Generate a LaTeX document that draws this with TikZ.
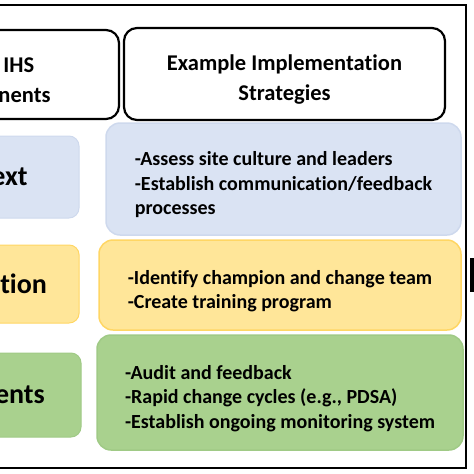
\documentclass[tikz,border=0pt]{standalone}
\usepackage{fontspec}
\setmainfont{Carlito}[Ligatures=NoCommon]
\usepackage{xcolor}
\usepackage{tikz}

\definecolor{ctxfill}{RGB}{218,227,243}
\definecolor{ctxline}{RGB}{206,217,237}
\definecolor{facfill}{RGB}{255,230,153}
\definecolor{facline}{RGB}{255,214,100}
\definecolor{recfill}{RGB}{169,209,142}
\definecolor{recline}{RGB}{160,202,134}

\newcommand{\toppad}[1]{\rule{0pt}{#1}}

\begin{document}
\begin{tikzpicture}[
  x=1pt, y=-1pt,
  header/.style={rectangle, draw, line width=2.2pt, rounded corners=13pt,
                 align=center, inner sep=0pt,
                 font=\fontsize{22.5}{30}\selectfont\bfseries},
  construct/.style={rectangle, rounded corners=10pt, line width=1pt,
                    inner sep=0pt, font=\fontsize{28}{34}\selectfont\bfseries},
  strategy/.style={rectangle, rounded corners=14pt, line width=1.5pt,
                   align=left, inner sep=0pt,
                   font=\fontsize{20}{24.5}\selectfont\bfseries},
]
\useasboundingbox (0,0) rectangle (474,474);
\clip (0,0) rectangle (474,474);

% outer frame, cut off on the left
\draw[line width=2pt] (-20,5) rectangle (466,468);
\fill (470,258) rectangle (480,292);

\node[header, align=left, minimum width=189pt, minimum height=89pt]
  at (24.5, 74.5) (comphead)  {\toppad{26pt}\hspace*{5pt}IHS\\nents};
\node[header, minimum width=321pt, minimum height=92pt]
  at (284.5, 74) (strathead) {\toppad{26pt}Example Implementation\\Strategies};

\node[construct, fill=ctxfill, draw=ctxline, minimum width=139pt, minimum height=82pt]
  at (9.5, 177)  (context) {ext};
\node[construct, fill=facfill, draw=facline, minimum width=111pt, minimum height=78pt]
  at (23.6, 284) (facil)   {tion};
\node[construct, fill=recfill, draw=recline, minimum width=122pt, minimum height=84pt]
  at (20, 395)   (recip)   {ents};

\node[strategy, fill=ctxfill, draw=ctxline, minimum width=355pt, minimum height=112pt]
  at (283.5, 179) (ctxstrat) {\toppad{26pt}-Assess site culture and leaders\\
  -Establish communication/feedback\\processes};
\node[strategy, fill=facfill, draw=facline, minimum width=362pt, minimum height=90pt]
  at (280, 285)   (facstrat) {\toppad{26pt}-Identify champion and change team\\
  -Create training program};
\node[strategy, fill=recfill, draw=recline, minimum width=366pt, minimum height=115pt]
  at (280, 392.5) (recstrat) {\toppad{26pt}-Audit and feedback\\
  -Rapid change cycles (e.g., PDSA)\\-Establish ongoing monitoring system};
\end{tikzpicture}
\end{document}
